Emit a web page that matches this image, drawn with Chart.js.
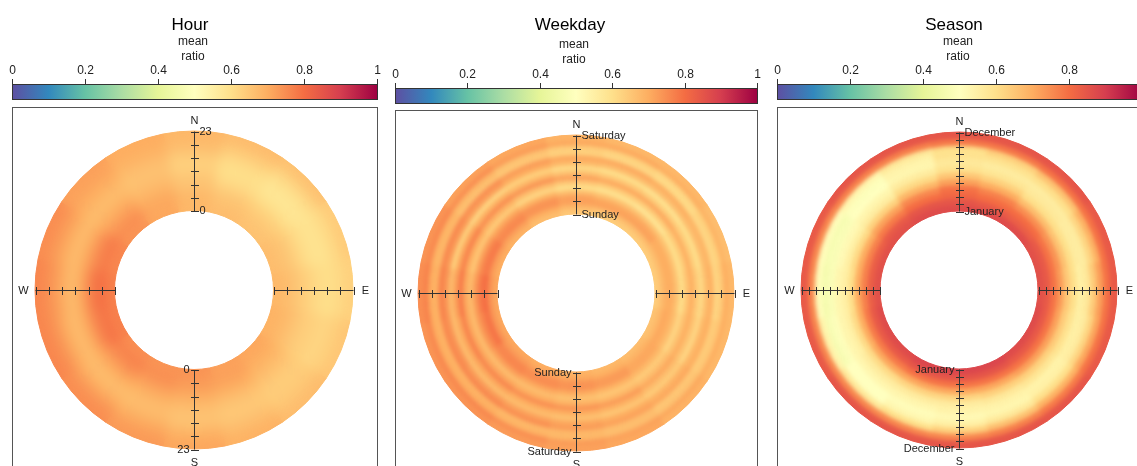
<!DOCTYPE html>
<html lang="en">
<head>
<meta charset="UTF-8">
<title>Polar annulus - Hour / Weekday / Season</title>
<script src="https://cdn.jsdelivr.net/npm/chart.js"></script>
<style>
  body { margin: 0; background: #fff; width: 1137px; height: 466px; overflow: hidden; position: relative; }
  canvas { position: absolute; top: 0; }
</style>
</head>
<body>
<canvas id="hourChart" width="390" height="466" style="left:0px"></canvas>
<canvas id="weekdayChart" width="390" height="466" style="left:385px"></canvas>
<canvas id="seasonChart" width="380" height="466" style="left:770px"></canvas>

<script>
// wind sectors, clockwise from north
const directions = ['N','NNE','NE','ENE','E','ESE','SE','SSE','S','SSW','SW','WSW','W','WNW','NW','NNW'];
const colorTicks = [0, 0.2, 0.4, 0.6, 0.8, 1];

// mean ratio, one row per ring (inner -> outer), one value per sector
const hourRows = [
  [0.68,0.67,0.66,0.67,0.68,0.69,0.71,0.72,0.74,0.74,0.75,0.77,0.77,0.76,0.74,0.71], // 0-2
  [0.68,0.66,0.65,0.66,0.67,0.68,0.70,0.72,0.73,0.75,0.77,0.79,0.80,0.78,0.75,0.71], // 3-5
  [0.66,0.64,0.63,0.64,0.65,0.66,0.68,0.70,0.71,0.72,0.74,0.76,0.77,0.75,0.72,0.69], // 6-8
  [0.65,0.61,0.60,0.61,0.63,0.64,0.66,0.67,0.68,0.69,0.70,0.70,0.70,0.70,0.69,0.67], // 9-11
  [0.63,0.60,0.58,0.59,0.61,0.63,0.64,0.65,0.66,0.67,0.67,0.67,0.67,0.67,0.67,0.66], // 12-14
  [0.64,0.61,0.59,0.59,0.60,0.62,0.64,0.65,0.66,0.68,0.69,0.70,0.71,0.70,0.69,0.67], // 15-17
  [0.67,0.64,0.62,0.61,0.61,0.63,0.65,0.67,0.69,0.71,0.73,0.74,0.74,0.73,0.71,0.69], // 18-20
  [0.68,0.67,0.66,0.64,0.63,0.65,0.67,0.69,0.71,0.73,0.75,0.76,0.76,0.75,0.72,0.70]  // 21-23
];

const weekdayRows = [
  [0.65,0.64,0.64,0.64,0.64,0.66,0.67,0.68,0.69,0.70,0.71,0.71,0.71,0.70,0.69,0.67],
  [0.68,0.67,0.67,0.67,0.67,0.68,0.69,0.70,0.71,0.72,0.73,0.74,0.74,0.73,0.72,0.70],
  [0.72,0.72,0.72,0.70,0.70,0.71,0.71,0.73,0.74,0.75,0.76,0.79,0.80,0.78,0.76,0.74],
  [0.72,0.71,0.71,0.70,0.70,0.70,0.71,0.73,0.74,0.75,0.76,0.77,0.78,0.77,0.75,0.74],
  [0.67,0.66,0.66,0.66,0.66,0.67,0.68,0.69,0.70,0.71,0.72,0.73,0.73,0.72,0.71,0.69],
  [0.60,0.59,0.58,0.60,0.60,0.62,0.64,0.65,0.66,0.67,0.67,0.67,0.67,0.65,0.64,0.62],
  [0.65,0.64,0.64,0.64,0.65,0.66,0.67,0.68,0.69,0.70,0.71,0.71,0.71,0.70,0.69,0.67],
  [0.72,0.71,0.71,0.70,0.70,0.70,0.71,0.73,0.74,0.75,0.76,0.77,0.78,0.77,0.75,0.74],
  [0.66,0.65,0.64,0.64,0.65,0.66,0.67,0.69,0.70,0.70,0.71,0.71,0.72,0.71,0.69,0.68],
  [0.61,0.60,0.59,0.60,0.61,0.62,0.64,0.65,0.66,0.67,0.67,0.67,0.67,0.63,0.62,0.63],
  [0.68,0.67,0.67,0.67,0.67,0.68,0.69,0.70,0.71,0.72,0.73,0.74,0.74,0.73,0.72,0.70],
  [0.71,0.71,0.70,0.69,0.70,0.70,0.71,0.72,0.73,0.75,0.76,0.76,0.77,0.76,0.75,0.73],
  [0.63,0.62,0.61,0.62,0.62,0.64,0.65,0.67,0.68,0.68,0.69,0.69,0.69,0.68,0.66,0.65],
  [0.64,0.63,0.62,0.63,0.64,0.65,0.66,0.67,0.68,0.69,0.70,0.70,0.70,0.69,0.68,0.66],
  [0.71,0.71,0.70,0.69,0.70,0.70,0.71,0.72,0.73,0.75,0.76,0.76,0.77,0.76,0.75,0.73],
  [0.69,0.68,0.68,0.67,0.68,0.68,0.69,0.71,0.72,0.73,0.74,0.74,0.75,0.74,0.72,0.71]
];

const seasonRows = [
  [0.87,0.87,0.87,0.86,0.86,0.87,0.87,0.88,0.88,0.88,0.87,0.87,0.86,0.86,0.86,0.87], // Jan
  [0.85,0.84,0.83,0.84,0.84,0.84,0.84,0.85,0.85,0.85,0.84,0.84,0.83,0.83,0.84,0.85],
  [0.81,0.80,0.80,0.79,0.79,0.79,0.79,0.79,0.79,0.79,0.78,0.78,0.77,0.77,0.78,0.80],
  [0.79,0.77,0.75,0.74,0.73,0.72,0.72,0.71,0.71,0.71,0.71,0.70,0.70,0.70,0.72,0.76],
  [0.72,0.70,0.67,0.66,0.65,0.64,0.63,0.63,0.62,0.62,0.61,0.61,0.60,0.61,0.63,0.68],
  [0.65,0.63,0.60,0.60,0.60,0.59,0.58,0.57,0.56,0.56,0.56,0.55,0.55,0.55,0.56,0.61],
  [0.59,0.58,0.57,0.56,0.55,0.55,0.54,0.54,0.54,0.53,0.53,0.53,0.53,0.52,0.53,0.56],
  [0.57,0.56,0.56,0.56,0.57,0.56,0.55,0.53,0.52,0.51,0.50,0.49,0.48,0.48,0.50,0.53],
  [0.59,0.59,0.60,0.62,0.64,0.62,0.60,0.57,0.55,0.53,0.50,0.47,0.46,0.47,0.49,0.54],
  [0.60,0.63,0.66,0.69,0.72,0.71,0.69,0.66,0.63,0.60,0.57,0.54,0.51,0.51,0.53,0.57],
  [0.78,0.78,0.79,0.79,0.79,0.79,0.78,0.77,0.76,0.76,0.76,0.76,0.76,0.76,0.77,0.77],
  [0.85,0.85,0.85,0.84,0.84,0.84,0.85,0.85,0.85,0.85,0.85,0.84,0.84,0.84,0.85,0.85]  // Dec
];

const spectral = ['#5E4FA2','#3288BD','#66C2A5','#ABDDA4','#E6F598','#FFFFBF',
                  '#FEE08B','#FDAE61','#F46D43','#D53E4F','#9E0142'];

function hexToRgb(h) {
  return [parseInt(h.slice(1, 3), 16), parseInt(h.slice(3, 5), 16), parseInt(h.slice(5, 7), 16)];
}

function colorOf(v) {
  const t = Math.min(Math.max(v, 0), 1) * (spectral.length - 1);
  const i = Math.min(Math.floor(t), spectral.length - 2);
  const f = t - i;
  const a = hexToRgb(spectral[i]), b = hexToRgb(spectral[i + 1]);
  const c = a.map((x, k) => Math.round(x + (b[k] - x) * f));
  return 'rgb(' + c.join(',') + ')';
}

const FONT = '"Liberation Sans", Arial, sans-serif';

const annulusDecor = {
  id: 'annulusDecor',
  beforeDraw(chart, args, o) {
    const ctx = chart.ctx;
    ctx.save();
    ctx.textAlign = 'center';
    ctx.textBaseline = 'middle';
    ctx.fillStyle = '#000';
    ctx.font = '17px ' + FONT;
    ctx.fillText(o.title, o.titleX, 25);
    ctx.fillStyle = '#222';
    ctx.font = '12px ' + FONT;
    ctx.fillText('mean', o.keyX, o.keyY);
    ctx.fillText('ratio', o.keyX, o.keyY + 15);

    // colour key
    const w = o.barRight - o.barLeft;
    const g = ctx.createLinearGradient(o.barLeft, 0, o.barRight, 0);
    spectral.forEach((c, i) => g.addColorStop(i / (spectral.length - 1), c));
    ctx.fillStyle = g;
    ctx.fillRect(o.barLeft, o.barTop, w, 15);
    ctx.strokeStyle = '#333';
    ctx.lineWidth = 1;
    ctx.strokeRect(o.barLeft + 0.5, o.barTop + 0.5, w, 15);
    ctx.fillStyle = '#222';
    colorTicks.forEach(t => {
      const x = Math.round(o.barLeft + t * w) + 0.5;
      ctx.beginPath();
      ctx.moveTo(x, o.barTop - 5);
      ctx.lineTo(x, o.barTop);
      ctx.stroke();
      ctx.fillText(String(t), x, o.barTop - 13);
    });

    // panel box
    ctx.strokeStyle = '#555';
    ctx.strokeRect(o.boxLeft + 0.5, o.boxTop + 0.5, o.boxRight - o.boxLeft, 500);
    ctx.restore();
  },
  afterDatasetsDraw(chart, args, o) {
    // soften the cell edges, as the original surface is smoothed
    if (!o.blur) return;
    const ctx = chart.ctx;
    const outerArc = chart.getDatasetMeta(0).data[0];
    const innerArc = chart.getDatasetMeta(chart.data.datasets.length - 1).data[0];
    const copy = document.createElement('canvas');
    copy.width = chart.canvas.width;
    copy.height = chart.canvas.height;
    copy.getContext('2d').drawImage(chart.canvas, 0, 0);
    ctx.save();
    ctx.setTransform(1, 0, 0, 1, 0, 0);
    ctx.beginPath();
    ctx.arc(outerArc.x, outerArc.y, outerArc.outerRadius, 0, Math.PI * 2);
    ctx.arc(outerArc.x, outerArc.y, innerArc.innerRadius, 0, Math.PI * 2, true);
    ctx.clip();
    ctx.filter = 'blur(' + o.blur + 'px)';
    ctx.drawImage(copy, 0, 0);
    ctx.restore();
  },
  afterDraw(chart, args, o) {
    const ctx = chart.ctx;
    const outerArc = chart.getDatasetMeta(0).data[0];
    const innerArc = chart.getDatasetMeta(chart.data.datasets.length - 1).data[0];
    const cx = Math.round(outerArc.x) + 0.5, cy = Math.round(outerArc.y) + 0.5;
    const R = outerArc.outerRadius, r = innerArc.innerRadius;
    ctx.save();
    ctx.strokeStyle = '#333';
    ctx.lineWidth = 1;
    const dirs = [[0, -1], [1, 0], [0, 1], [-1, 0]];
    dirs.forEach(([dx, dy]) => {
      ctx.beginPath();
      ctx.moveTo(cx + dx * r, cy + dy * r);
      ctx.lineTo(cx + dx * R, cy + dy * R);
      for (let k = 0; k < o.ticks; k++) {
        const d = r + k * (R - r) / (o.ticks - 1);
        const px = Math.round(cx + dx * d) + (dx ? 0.5 : 0);
        const py = Math.round(cy + dy * d) + (dy ? 0.5 : 0);
        if (dx) { ctx.moveTo(px, py - 4); ctx.lineTo(px, py + 4); }
        else { ctx.moveTo(px - 4, py); ctx.lineTo(px + 4, py); }
      }
      ctx.stroke();
    });
    ctx.fillStyle = '#222';
    ctx.font = '11px ' + FONT;
    ctx.textBaseline = 'middle';
    ctx.textAlign = 'left';
    ctx.fillText(o.outerLabel, cx + 5, cy - R);
    ctx.fillText(o.innerLabel, cx + 5, cy - r);
    ctx.textAlign = 'right';
    ctx.fillText(o.innerLabel, cx - 5, cy + r);
    ctx.fillText(o.outerLabel, cx - 5, cy + R);
    ctx.textAlign = 'center';
    ctx.fillText('N', cx, cy - R - 11);
    ctx.fillText('S', cx, cy + R + 13);
    ctx.fillText('W', cx - R - 12, cy);
    ctx.fillText('E', cx + R + 12, cy);
    ctx.restore();
  }
};

function makeAnnulus(id, rows, radius, padding, decor) {
  const datasets = rows.slice().reverse().map(row => ({
    data: row.map(() => 1),
    backgroundColor: row.map(colorOf),
    borderColor: row.map(colorOf),
    borderWidth: 1,
    hoverOffset: 0,
    offset: 0
  }));
  new Chart(document.getElementById(id), {
    type: 'doughnut',
    data: { labels: directions, datasets: datasets },
    options: {
      responsive: false,
      animation: false,
      events: [],
      radius: radius,
      cutout: '50%',
      rotation: -360 / directions.length / 2,
      layout: { padding: padding },
      plugins: {
        legend: { display: false },
        tooltip: { enabled: false },
        annulusDecor: decor
      }
    },
    plugins: [annulusDecor]
  });
}

makeAnnulus('hourChart', hourRows, 159,
  { left: 35, right: 37, top: 131, bottom: 17 },
  { title: 'Hour', titleX: 190, keyX: 193, keyY: 42,
    barLeft: 12, barRight: 377, barTop: 84,
    boxLeft: 12, boxRight: 377, boxTop: 107,
    ticks: 7, innerLabel: '0', outerLabel: '23', blur: 6 });

makeAnnulus('weekdayChart', weekdayRows, 158,
  { left: 33, right: 41, top: 135, bottom: 15 },
  { title: 'Weekday', titleX: 185, keyX: 189, keyY: 45,
    barLeft: 10, barRight: 372, barTop: 88,
    boxLeft: 10, boxRight: 372, boxTop: 110,
    ticks: 7, innerLabel: 'Sunday', outerLabel: 'Saturday', blur: 2 });

makeAnnulus('seasonChart', seasonRows, 158,
  { left: 31, right: 33, top: 132, bottom: 18 },
  { title: 'Season', titleX: 184, keyX: 188, keyY: 42,
    barLeft: 7, barRight: 372, barTop: 84,
    boxLeft: 7, boxRight: 372, boxTop: 107,
    ticks: 12, innerLabel: 'January', outerLabel: 'December', blur: 2 });
</script>
</body>
</html>
